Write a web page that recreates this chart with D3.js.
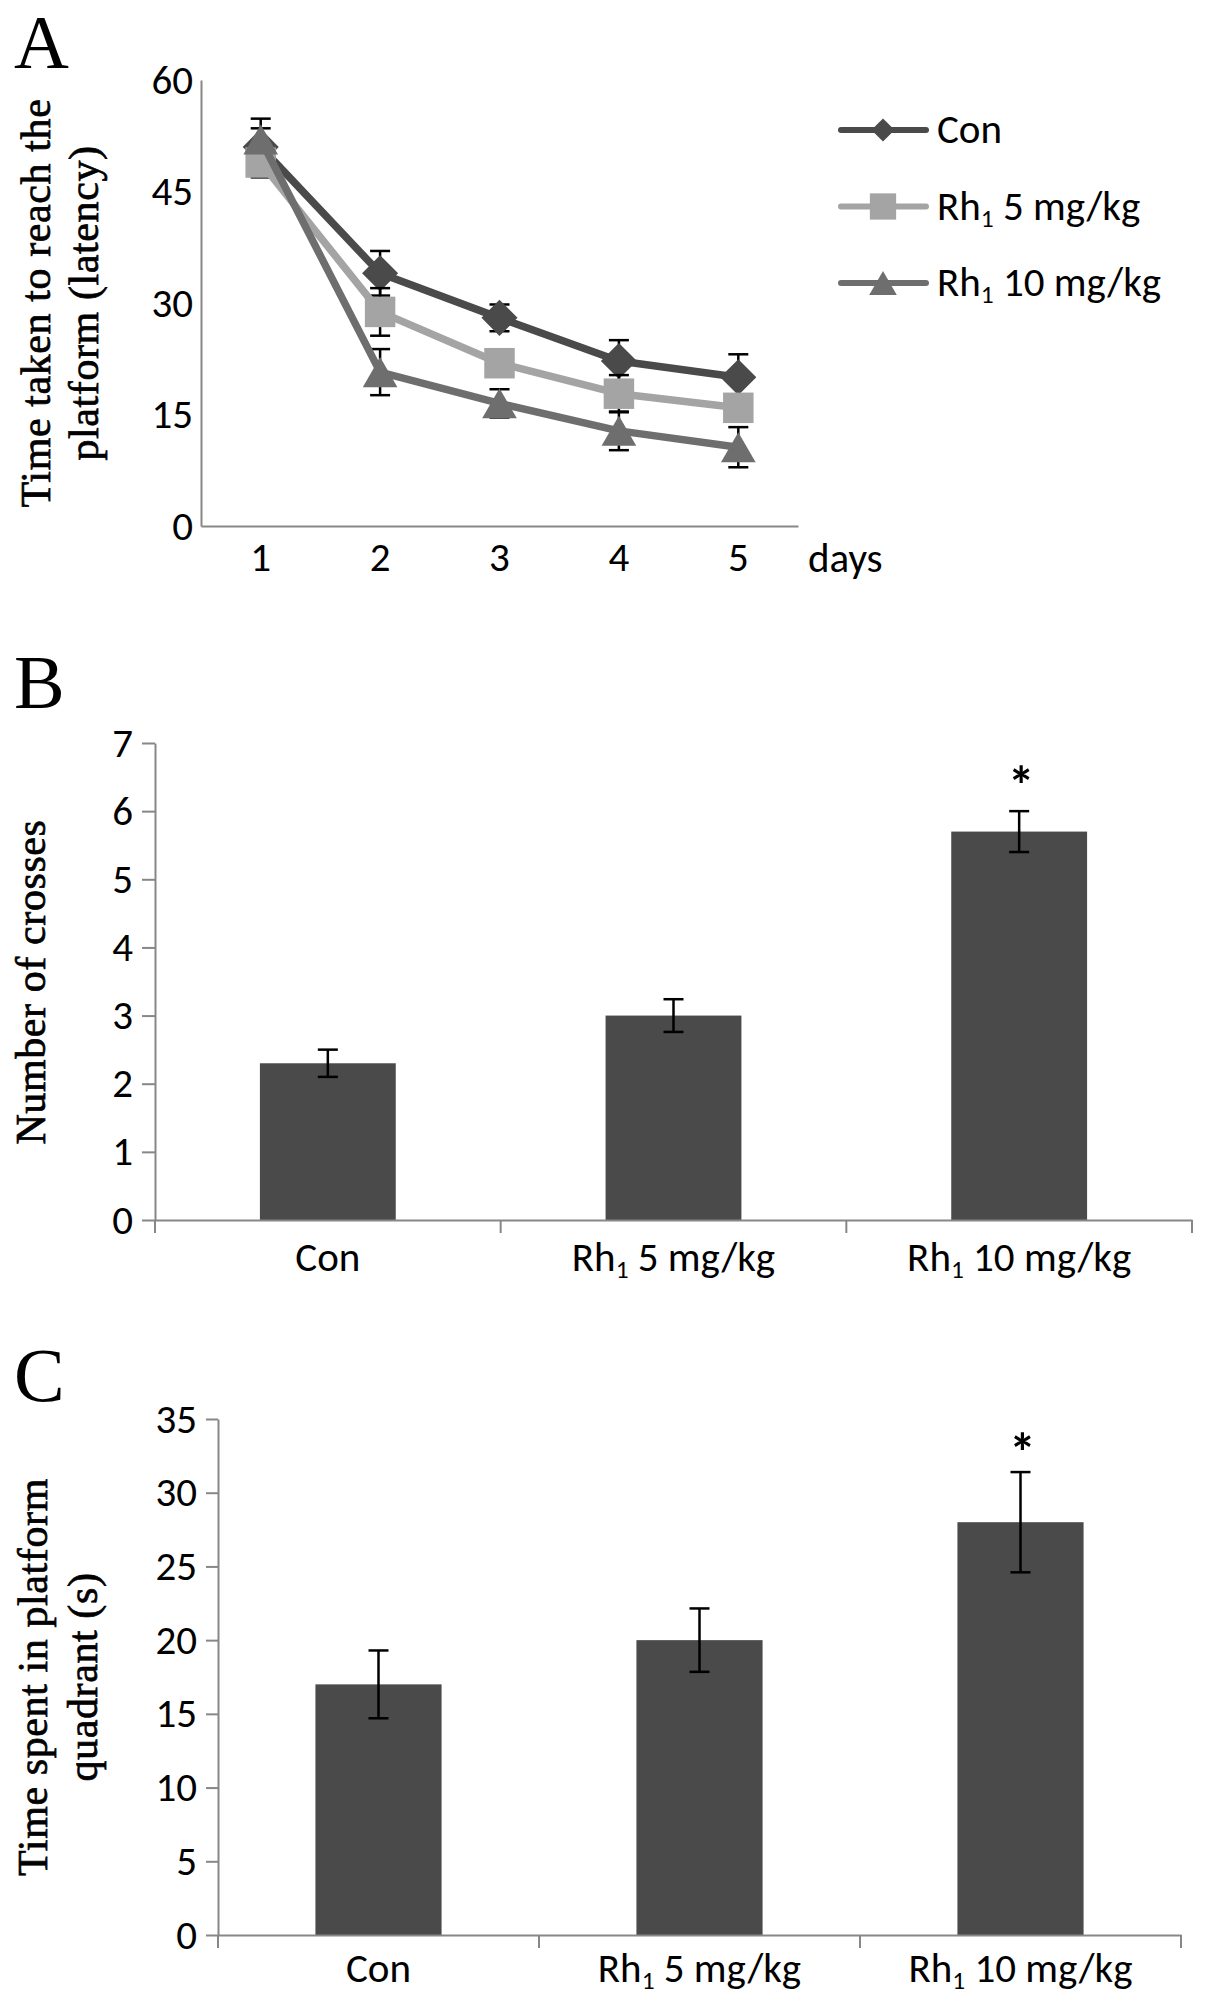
<!DOCTYPE html>
<html>
<head>
<meta charset="utf-8">
<script src="https://cdn.jsdelivr.net/npm/d3@7"></script>
<style>
  body { margin: 0; background: #fff; }
</style>
</head>
<body>
<svg id="chart" width="1205" height="2001"></svg>
<script>
// ---- data ----
const days = ["1", "2", "3", "4", "5"];
const seriesNames = ["Con", "Rh_1 5 mg/kg", "Rh_1 10 mg/kg"];

const latencyCon = [51, 34, 28, 22.2, 20];
const latencyConErr = [3.8, 3, 1.8, 2.8, 3.1];
const latencyRh5 = [48.9, 28.8, 21.9, 17.8, 15.9];
const latencyRh5Err = [2, 3.2, 1.5, 2.5, 1.5];
const latencyRh10 = [52, 20.7, 16.5, 12.8, 10.6];
const latencyRh10Err = [1.5, 3.1, 1.9, 2.6, 2.7];
const latencyTicks = [0, 15, 30, 45, 60];

const groups = ["Con", "Rh_1 5 mg/kg", "Rh_1 10 mg/kg"];
const crosses = [2.3, 3.0, 5.7];
const crossesErr = [0.2, 0.24, 0.3];
const crossesTicks = [0, 1, 2, 3, 4, 5, 6, 7];
const quadrantTime = [17, 20, 28];
const quadrantErr = [2.3, 2.15, 3.4];
const quadrantTicks = [0, 5, 10, 15, 20, 25, 30, 35];
const significant = [false, false, true];

// ---- styling ----
const sansFont = "Carlito, Calibri, 'Liberation Sans Narrow', 'Open Sans', sans-serif";
const serifFont = "'Liberation Serif', 'Times New Roman', serif";
const fontSize = 41;
const axisColor = "#878787";
const barColor = "#4a4a4a";
const lineColors = ["#4a4a4a", "#a4a4a4", "#6e6e6e"];

const svg = d3.select("#chart");
svg.append("rect").attr("width", 1205).attr("height", 2001).attr("fill", "#fff");

// text with a subscript "1" after "Rh"
function richText(sel, str) {
  const parts = str.split("_1");
  sel.text(null);
  sel.append("tspan").text(parts[0]);
  if (parts.length > 1) {
    sel.append("tspan").attr("font-size", "0.62em").attr("dy", 7).text("1");
    sel.append("tspan").attr("dy", -7).text(parts[1]);
  }
}

function styleAxis(g) {
  g.attr("font-family", sansFont).attr("font-size", fontSize);
  g.selectAll("path.domain").attr("stroke", axisColor).attr("stroke-width", 2);
  g.selectAll(".tick line").attr("stroke", axisColor).attr("stroke-width", 2);
  g.selectAll(".tick text").attr("fill", "#000");
}

function panelLetter(letter, y) {
  svg.append("text").attr("x", 14).attr("y", y)
    .attr("font-family", serifFont).attr("font-size", 76).text(letter);
}

function yTitle(lines, cx, cy, lineGap) {
  const t = svg.append("text")
    .attr("transform", `translate(${cx},${cy}) rotate(-90)`)
    .attr("text-anchor", "middle")
    .attr("font-family", serifFont).attr("font-size", 42)
    .attr("letter-spacing", 0.6)
    .attr("stroke", "#000").attr("stroke-width", 0.7);
  lines.forEach((l, i) => {
    t.append("tspan").attr("x", 0).attr("y", i * lineGap).text(l);
  });
}

// custom markers centred on their box
const diamond = { draw(ctx, size) { const r = Math.sqrt(size / 2); ctx.moveTo(0, -r); ctx.lineTo(r, 0); ctx.lineTo(0, r); ctx.lineTo(-r, 0); ctx.closePath(); } };
const square = { draw(ctx, size) { const r = Math.sqrt(size) / 2; ctx.rect(-r, -r, 2 * r, 2 * r); } };
const triangle = { draw(ctx, size) { const w = Math.sqrt(size * 4 / Math.sqrt(3)); const h = w * Math.sqrt(3) / 2; ctx.moveTo(0, -h / 2); ctx.lineTo(w / 2, h / 2); ctx.lineTo(-w / 2, h / 2); ctx.closePath(); } };

// ================= Panel A =================
panelLetter("A", 68);
yTitle(["Time taken to reach the", "platform (latency)"], 50, 303, 48);

const xA = d3.scaleBand().domain(days).range([201, 798]);
const yA = d3.scaleLinear().domain([0, 60]).range([526, 80]);

const gAy = svg.append("g").attr("transform", `translate(201,0)`)
  .call(d3.axisLeft(yA).tickValues(latencyTicks).tickFormat(d3.format("d"))
    .tickSize(0).tickSizeOuter(0).tickPadding(8));
styleAxis(gAy);

const gAx = svg.append("g").attr("transform", `translate(0,526)`)
  .call(d3.axisBottom(xA).tickSize(0).tickSizeOuter(0));
styleAxis(gAx);
gAx.selectAll(".tick text").attr("y", 45).attr("dy", null);

svg.append("text").attr("x", 808).attr("y", 572)
  .attr("font-family", sansFont).attr("font-size", fontSize).text("days");

const latencySeries = [
  { values: latencyCon, err: latencyConErr, type: diamond, size: 650, legendSize: 270 },
  { values: latencyRh5, err: latencyRh5Err, type: square, size: 930, legendSize: 690 },
  { values: latencyRh10, err: latencyRh10Err, type: triangle, size: 520, legendSize: 330 }
];

const cx = d => xA(d) + xA.bandwidth() / 2;
const line = d3.line().x((v, i) => cx(days[i])).y(v => yA(v));

// per series: error bars, then line, then markers
latencySeries.forEach((s, si) => {
  const ge = svg.append("g").attr("stroke", "#000").attr("stroke-width", 2.5);
  s.values.forEach((v, i) => {
    const x = cx(days[i]);
    const y1 = yA(v + s.err[i]), y0 = yA(v - s.err[i]);
    ge.append("line").attr("x1", x).attr("x2", x).attr("y1", y1).attr("y2", y0);
    ge.append("line").attr("x1", x - 10).attr("x2", x + 10).attr("y1", y1).attr("y2", y1);
    ge.append("line").attr("x1", x - 10).attr("x2", x + 10).attr("y1", y0).attr("y2", y0);
  });

  const g = svg.append("g");
  g.append("path").datum(s.values)
    .attr("d", line).attr("fill", "none")
    .attr("stroke", lineColors[si]).attr("stroke-width", 7.5)
    .attr("stroke-linejoin", "round").attr("stroke-linecap", "round");
  g.selectAll("path.marker").data(s.values).join("path")
    .attr("class", "marker")
    .attr("transform", (v, i) => `translate(${cx(days[i])},${yA(v)})`)
    .attr("d", d3.symbol().type(s.type).size(s.size))
    .attr("fill", lineColors[si]);
});

// legend
const legendY = d3.scalePoint().domain(seriesNames).range([130, 283]);
seriesNames.forEach((name, si) => {
  const y = legendY(name);
  const g = svg.append("g");
  g.append("line").attr("x1", 841).attr("x2", 926).attr("y1", y).attr("y2", y)
    .attr("stroke", lineColors[si]).attr("stroke-width", 6).attr("stroke-linecap", "round");
  g.append("path").attr("transform", `translate(883,${y})`)
    .attr("d", d3.symbol().type(latencySeries[si].type).size(latencySeries[si].legendSize))
    .attr("fill", lineColors[si]);
  g.append("text").attr("x", 937).attr("y", y + 13)
    .attr("font-family", sansFont).attr("font-size", fontSize)
    .call(richText, name);
});

// ================= Bar panels =================
function barPanel(opt) {
  const x = d3.scaleBand().domain(groups).range([opt.x0, opt.x1]);
  const y = d3.scaleLinear().domain([0, opt.max]).range([opt.y0, opt.y1]);
  const bw = x.bandwidth() * 0.393;

  const gy = svg.append("g").attr("transform", `translate(${opt.x0},0)`)
    .call(d3.axisLeft(y).tickValues(opt.ticks).tickFormat(d3.format("d"))
      .tickSize(opt.tick).tickSizeOuter(0).tickPadding(9));
  styleAxis(gy);

  svg.append("g").selectAll("rect").data(opt.values).join("rect")
    .attr("x", (v, i) => x(groups[i]) + (x.bandwidth() - bw) / 2)
    .attr("y", v => y(v))
    .attr("width", bw)
    .attr("height", v => y(0) - y(v))
    .attr("fill", barColor);

  const gx = svg.append("g").attr("transform", `translate(0,${opt.y0})`)
    .call(d3.axisBottom(x).tickSize(0).tickSizeOuter(0));
  styleAxis(gx);
  gx.selectAll(".tick text").attr("y", opt.labelOffset).attr("dy", null)
    .each(function (d) { d3.select(this).call(richText, d); });
  // category boundary ticks
  const bounds = groups.map(g => x(g)).concat([x(groups[groups.length - 1]) + x.bandwidth()]);
  gx.selectAll("line.bound").data(bounds).join("line")
    .attr("class", "bound")
    .attr("x1", d => d).attr("x2", d => d).attr("y1", 0).attr("y2", 13)
    .attr("stroke", axisColor).attr("stroke-width", 2);

  const ge = svg.append("g").attr("stroke", "#000").attr("stroke-width", 2.5);
  opt.values.forEach((v, i) => {
    const c = x(groups[i]) + x.bandwidth() / 2;
    const yt = y(v + opt.err[i]), yb = y(v - opt.err[i]);
    ge.append("line").attr("x1", c).attr("x2", c).attr("y1", yt).attr("y2", yb);
    ge.append("line").attr("x1", c - 10).attr("x2", c + 10).attr("y1", yt).attr("y2", yt);
    ge.append("line").attr("x1", c - 10).attr("x2", c + 10).attr("y1", yb).attr("y2", yb);
    if (significant[i]) {
      svg.append("text").attr("x", c + 2).attr("y", yt - opt.starGap)
        .attr("text-anchor", "middle")
        .attr("font-family", sansFont).attr("font-weight", "bold").attr("font-size", 54)
        .text("*");
    }
  });
}

// Panel B
panelLetter("B", 708);
yTitle(["Number of crosses"], 45, 982, 0);
barPanel({
  values: crosses, err: crossesErr, ticks: crossesTicks, max: 7,
  x0: 155, x1: 1192, y0: 1220, y1: 743, tick: 13, labelOffset: 51, starGap: 7
});

// Panel C
panelLetter("C", 1401);
yTitle(["Time spent in platform", "quadrant (s)"], 47, 1677, 50);
barPanel({
  values: quadrantTime, err: quadrantErr, ticks: quadrantTicks, max: 35,
  x0: 218, x1: 1181, y0: 1935, y1: 1419, tick: 12, labelOffset: 47, starGap: 1
});
</script>
</body>
</html>
